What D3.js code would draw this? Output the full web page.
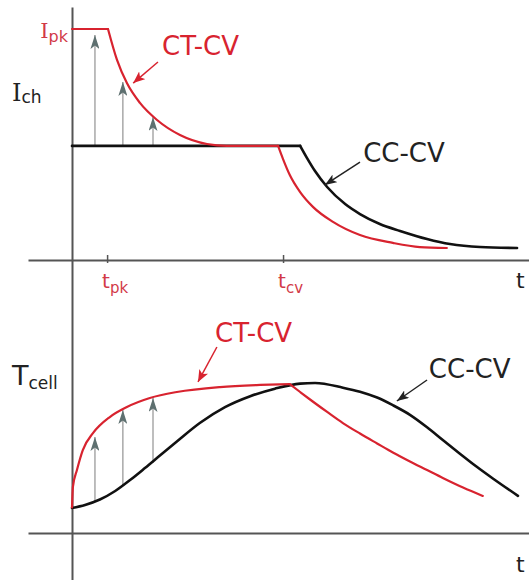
<!DOCTYPE html>
<html>
<head>
<meta charset="utf-8">
<script src="https://cdn.jsdelivr.net/npm/d3@7"></script>
<style>
  html, body { margin: 0; padding: 0; background: #fff; }
  svg { display: block; }
  text { font-family: "DejaVu Sans", Verdana, sans-serif; }
</style>
</head>
<body>
<svg id="chart" width="529" height="580"></svg>
<script>
// ---------------- DATA (normalised units: time 0..100, current 0..100 = Ipk, temperature 0..100 = peak) ----------------
const tickTimes = [7.8, 46.9];
const tickLabels = [["t", "pk"], ["t", "cv"]];

// Charging current, CT-CV (red)
const ctcvCurrentT = [0, 8.0, 10.0, 12.2, 15.1, 18.9, 24.0, 30.0, 34.4, 45.8, 46.9, 48.4, 50.7, 53.6, 58.0, 64.0, 71.3, 77.3, 83.3];
const ctcvCurrentI = [100, 100, 86.6, 76.6, 68.0, 60.6, 54.1, 50.2, 49.4, 49.4, 43.7, 36.8, 29.4, 22.9, 16.5, 10.8, 7.4, 5.6, 5.2];
const ctcvCurrentCorners = [1, 9];

// Charging current, CC-CV (black)
const cccvCurrentT = [0, 50.7, 52.2, 54.0, 56.7, 60.7, 64.0, 68.4, 72.9, 78.9, 84.0, 90.7, 98.9];
const cccvCurrentI = [49.4, 49.4, 44.2, 38.5, 31.6, 24.2, 19.9, 15.6, 12.6, 9.1, 6.9, 5.6, 5.2];
const cccvCurrentCorners = [1];

// Cell temperature, CT-CV (red)
const ctcvTempT = [0, 0.2, 1.1, 2.4, 4.7, 8.4, 12.2, 17.3, 23.3, 32.9, 41.8, 48.4, 50.7, 52.9, 56.7, 60.2, 64.0, 67.8, 71.3, 75.1, 78.9, 82.4, 86.9, 91.3];
const ctcvTempV = [17, 30.7, 42, 55.3, 66.7, 77.3, 84, 90, 94, 97.3, 98.7, 99.3, 94, 89, 80.7, 73.3, 66.3, 59.7, 53.7, 47.7, 42, 36.7, 30.3, 24.7];
const ctcvTempCorners = [11];

// Cell temperature, CC-CV (black)
const cccvTempT = [0, 2.9, 6.2, 9.6, 12.9, 16.2, 19.6, 23.3, 28.4, 34.0, 39.6, 45.1, 50.7, 54.0, 60.2, 64.0, 67.8, 71.3, 75.1, 78.9, 82.4, 86.2, 89.8, 93.6, 99.1];
const cccvTempV = [16.7, 18.7, 22.3, 28, 35.3, 43.3, 51.8, 61, 73.3, 83.9, 91.2, 96.2, 99.6, 100, 96.9, 94.2, 90.3, 85.2, 78.8, 70.5, 62, 52.9, 44.5, 36.2, 24.8];
const cccvTempCorners = [];

// Gray "increase" arrows
const boostT = [5.1, 11.3, 18.0];
const boostCurrentFrom = [49.4, 49.4, 49.4];
const boostCurrentTo = [97.4, 77.1, 61.9];
const boostTempFrom = [21.3, 31.3, 46.7];
const boostTempTo = [64, 82, 90];

// Series labels
const seriesNames = ["CT-CV", "CC-CV"];

// ---------------- LAYOUT ----------------
const svg = d3.select("#chart");
const RED = "#d8232f";
const LABEL_RED = "#d23a48";
const AXIS = "#555";

const x = d3.scaleLinear().domain([0, 100]).range([72, 522]);
const yI = d3.scaleLinear().domain([0, 100]).range([260, 29]);
const yT = d3.scaleLinear().domain([0, 100]).range([533, 383]);
const xAxisScale = x.copy().domain([x.invert(28), x.invert(529)]).range([28, 529]);

// markers
const defs = svg.append("defs");
function marker(id, color, len, half) {
  defs.append("marker")
    .attr("id", id)
    .attr("viewBox", `0 ${-half} ${len} ${2 * half}`)
    .attr("refX", len).attr("refY", 0)
    .attr("markerUnits", "userSpaceOnUse")
    .attr("markerWidth", len).attr("markerHeight", 2 * half)
    .attr("orient", "auto")
    .append("path")
    .attr("d", `M${len},0 L0,${-half} L${len * 0.25},0 L0,${half} Z`)
    .attr("fill", color);
}
marker("grayHead", "#5e7070", 14, 4.5);
marker("redHead", RED, 12, 5);
marker("blackHead", "#222", 12, 4.5);

// axes
const topAxis = svg.append("g").attr("transform", `translate(0,${yI(0)})`)
  .call(d3.axisBottom(xAxisScale).tickValues(tickTimes).tickSize(4).tickSizeOuter(0).tickFormat(""));
topAxis.select(".domain").attr("stroke", AXIS).attr("stroke-width", 2);
topAxis.selectAll(".tick line").attr("y1", -5).attr("y2", 3).attr("stroke", AXIS).attr("stroke-width", 1.5);

const botAxis = svg.append("g").attr("transform", `translate(0,${yT(0)})`)
  .call(d3.axisBottom(xAxisScale).tickValues([]).tickSizeOuter(0));
botAxis.select(".domain").attr("stroke", AXIS).attr("stroke-width", 2);

const vScale = d3.scaleLinear().domain([0, 1]).range([580, 7]);
const vAxis = svg.append("g").attr("transform", `translate(${x(0)},0)`)
  .call(d3.axisLeft(vScale).tickValues([]).tickSizeOuter(0));
vAxis.select(".domain").attr("stroke", AXIS).attr("stroke-width", 2);

// tick labels
tickTimes.forEach((t, i) => {
  const tx = svg.append("text").attr("x", x(t) - 5).attr("y", 288)
    .attr("fill", LABEL_RED).attr("font-size", 20);
  tx.append("tspan").text(tickLabels[i][0]);
  tx.append("tspan").attr("dy", 5).attr("font-size", 15).text(tickLabels[i][1]);
});

// "t" axis labels
svg.append("text").attr("x", 516).attr("y", 288).attr("font-size", 22).attr("fill", "#222").text("t");
svg.append("text").attr("x", 516).attr("y", 572).attr("font-size", 22).attr("fill", "#222").text("t");

// Y labels
const ich = svg.append("text").attr("x", 12).attr("y", 101).attr("fill", "#222");
ich.append("tspan").attr("font-family", "DejaVu Serif").attr("font-size", 24).text("I");
ich.append("tspan").attr("dy", 2).attr("font-size", 17).text("ch");

const ipk = svg.append("text").attr("x", 68).attr("y", 38).attr("text-anchor", "end").attr("fill", LABEL_RED);
ipk.append("tspan").attr("font-family", "DejaVu Serif").attr("font-size", 21).text("I");
ipk.append("tspan").attr("dy", 4).attr("font-size", 16).text("pk");

const tcell = svg.append("text").attr("x", 12).attr("y", 385).attr("fill", "#222");
tcell.append("tspan").attr("font-size", 27).text("T");
tcell.append("tspan").attr("dy", 4).attr("font-size", 17).text("cell");

// gray boost arrows
const boostG = svg.append("g");
boostT.forEach((t, i) => {
  boostG.append("line").attr("x1", x(t)).attr("x2", x(t))
    .attr("y1", yI(boostCurrentFrom[i])).attr("y2", yI(boostCurrentTo[i]))
    .attr("stroke", "#a8a8a8").attr("stroke-width", 1.5).attr("marker-end", "url(#grayHead)");
  boostG.append("line").attr("x1", x(t)).attr("x2", x(t))
    .attr("y1", yT(boostTempFrom[i])).attr("y2", yT(boostTempTo[i]))
    .attr("stroke", "#a8a8a8").attr("stroke-width", 1.5).attr("marker-end", "url(#grayHead)");
});

// curves: split at corner indices, each piece smooth (monotone)
function drawSeries(ts, vs, corners, yScale, color, width) {
  const pts = ts.map((t, i) => [t, vs[i]]);
  const cuts = [0, ...corners, pts.length - 1];
  const line = d3.line().x(d => x(d[0])).y(d => yScale(d[1])).curve(d3.curveMonotoneX);
  for (let k = 0; k < cuts.length - 1; k++) {
    const seg = pts.slice(cuts[k], cuts[k + 1] + 1);
    if (seg.length < 2) continue;
    svg.append("path").attr("d", line(seg)).attr("fill", "none")
      .attr("stroke", color).attr("stroke-width", width)
      .attr("stroke-linejoin", "round").attr("stroke-linecap", "round");
  }
}
drawSeries(cccvCurrentT, cccvCurrentI, cccvCurrentCorners, yI, "#111", 2.6);
drawSeries(ctcvCurrentT, ctcvCurrentI, ctcvCurrentCorners, yI, RED, 2.2);
drawSeries(cccvTempT, cccvTempV, cccvTempCorners, yT, "#111", 2.6);
drawSeries(ctcvTempT, ctcvTempV, ctcvTempCorners, yT, RED, 2.2);

// series labels + pointer arrows (annotation positions in data units)
const annotations = [
  { name: seriesNames[0], scale: yI, color: RED, head: "redHead", tx: 20, ty: 88.7, from: [19.1, 85.7], to: [13.6, 76.6] },
  { name: seriesNames[1], scale: yI, color: "#222", head: "blackHead", tx: 64.7, ty: 42.4, from: [64.0, 42.4], to: [56.2, 32.5] },
  { name: seriesNames[0], scale: yT, color: RED, head: "redHead", tx: 31.8, ty: 127.3, from: [32.2, 124], to: [28.0, 100.7] },
  { name: seriesNames[1], scale: yT, color: "#222", head: "blackHead", tx: 79.3, ty: 103.3, from: [78.9, 102], to: [72.2, 88] }
];
annotations.forEach(a => {
  svg.append("text").attr("x", x(a.tx)).attr("y", a.scale(a.ty))
    .attr("font-size", 26).attr("fill", a.color).text(a.name);
  svg.append("line")
    .attr("x1", x(a.from[0])).attr("y1", a.scale(a.from[1]))
    .attr("x2", x(a.to[0])).attr("y2", a.scale(a.to[1]))
    .attr("stroke", a.color).attr("stroke-width", 1.5).attr("marker-end", `url(#${a.head})`);
});
</script>
</body>
</html>
